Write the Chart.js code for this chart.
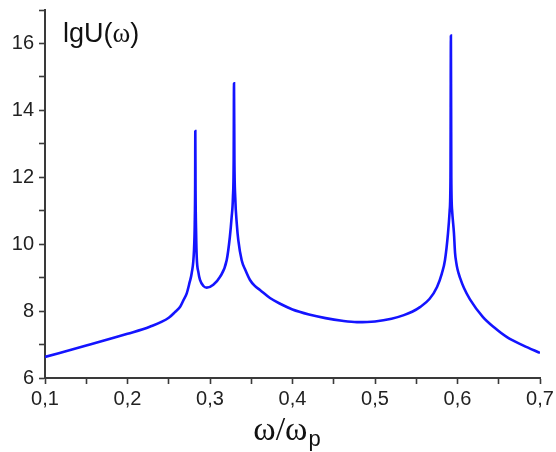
<!DOCTYPE html>
<html>
<head>
<meta charset="utf-8">
<script src="https://cdn.jsdelivr.net/npm/chart.js@4"></script>
<style>
html,body{margin:0;padding:0;background:#fff;}
#wrap{width:556px;height:452px;position:relative;}
</style>
</head>
<body>
<div id="wrap"><canvas id="c" width="556" height="452"></canvas></div>
<script>
// ω/ωp values
const omega = [
  0.100, 0.150, 0.200, 0.227, 0.250, 0.258, 0.2636, 0.2677, 0.2718, 0.2752, 0.2778, 0.2806, 0.2815, 0.2820, 0.2822,
  0.2825, 0.2832, 0.2839, 0.2860, 0.2879, 0.2920, 0.2960, 0.3040, 0.3121, 0.3202, 0.3240,
  0.3262, 0.3278, 0.3287, 0.3291, 0.3296, 0.3306, 0.3325, 0.3343, 0.3384, 0.3430, 0.3485, 0.3540, 0.3606,
  0.3727, 0.385, 0.400, 0.420, 0.440, 0.460, 0.478, 0.500, 0.520, 0.535, 0.545, 0.5545, 0.566, 0.5752, 0.581, 0.5848, 0.5885,
  0.5905, 0.5915, 0.5920, 0.5925, 0.5935, 0.5957, 0.5970, 0.5985, 0.6000, 0.6030, 0.6080, 0.6151, 0.6309, 0.6450, 0.6600, 0.680, 0.700
];
// lgU(ω) values
const lgU = [
  6.63, 6.97, 7.32, 7.53, 7.80, 7.98, 8.12, 8.32, 8.53, 8.85, 9.13, 9.82, 10.6, 11.8, 13.38,
  11.6, 10.3, 9.62, 9.15, 8.93, 8.75, 8.70, 8.79, 9.02, 9.52, 10.2,
  10.8, 11.4, 12.5, 14.81, 12.5, 11.4, 10.6, 10.12, 9.52, 9.22, 8.93, 8.76, 8.63,
  8.39, 8.22, 8.05, 7.90, 7.79, 7.71, 7.67, 7.69, 7.77, 7.88, 7.98, 8.12, 8.36, 8.72, 9.12, 9.52, 10.33,
  11.0, 12.0, 16.24, 12.0, 11.0, 10.33, 9.75, 9.45, 9.25, 9.00, 8.68, 8.35, 7.82, 7.50, 7.22, 6.97, 6.75
];
const xTickLabels = ['0,1','0,2','0,3','0,4','0,5','0,6','0,7'];
const yTickLabels = ['6','8','10','12','14','16'];

const points = omega.map((w, i) => ({x: w, y: lgU[i]}));
const axisColor = '#3a3a3a';
const labelColor = '#222';

const textPlugin = {
  id: 'texts',
  afterDraw(chart) {
    const ctx = chart.ctx;
    const xs = chart.scales.x;
    ctx.save();
    ctx.fillStyle = '#111';
    ctx.textBaseline = 'alphabetic';
    // x-axis title ω/ωp
    const cx = (xs.left + xs.right) / 2 - 6;
    ctx.font = '34px "Liberation Serif", "Times New Roman", serif';
    const main = 'ω/ω';
    const mw = ctx.measureText(main).width;
    ctx.font = '22px "Liberation Sans", Arial, sans-serif';
    const pw = ctx.measureText('p').width;
    const startX = cx - (mw + pw) / 2;
    ctx.font = '34px "Liberation Serif", "Times New Roman", serif';
    ctx.textAlign = 'left';
    ctx.fillText(main, startX, 440);
    ctx.font = '22px "Liberation Sans", Arial, sans-serif';
    ctx.fillText('p', startX + mw + 1, 446);
    // lgU(ω) label
    let x = 63;
    const y = 42;
    ctx.font = '27px "Liberation Sans", Arial, sans-serif';
    ctx.fillText('lgU(', x, y);
    x += ctx.measureText('lgU(').width;
    ctx.font = '27px "Liberation Serif", "Times New Roman", serif';
    ctx.fillText('ω', x, y);
    x += ctx.measureText('ω').width;
    ctx.font = '27px "Liberation Sans", Arial, sans-serif';
    ctx.fillText(')', x, y);
    ctx.restore();
  }
};

new Chart(document.getElementById('c'), {
  type: 'scatter',
  data: {
    datasets: [{
      data: points,
      showLine: true,
      borderColor: 'rgb(20,20,255)',
      borderWidth: 2.6,
      pointRadius: 0,
      cubicInterpolationMode: 'monotone',
      fill: false
    }]
  },
  options: {
    responsive: false,
    animation: false,
    layout: {padding: {top: 10, right: 16, left: 0, bottom: 0}},
    plugins: {legend: {display: false}, tooltip: {enabled: false}},
    scales: {
      x: {
        type: 'linear',
        min: 0.1, max: 0.7,
        afterFit(scale) { scale.height = 74; scale.paddingLeft = 0; scale.paddingRight = 0; },
        border: {display: true, color: axisColor, width: 2},
        grid: {drawOnChartArea: false, drawTicks: true, tickLength: 6, tickColor: axisColor, tickWidth: 1.6},
        ticks: {
          stepSize: 0.05,
          padding: 3,
          color: labelColor,
          font: {family: '"Liberation Sans", Arial, sans-serif', size: 20},
          maxRotation: 0,
          autoSkip: false,
          callback(v) {
            const k = Math.round(v * 100);
            if (k % 10 !== 0) return '';
            return xTickLabels[k / 10 - 1];
          }
        }
      },
      y: {
        type: 'linear',
        min: 6, max: 17,
        afterFit(scale) { scale.width = 45; scale.paddingTop = 0; scale.paddingBottom = 0; },
        border: {display: true, color: axisColor, width: 2},
        grid: {drawOnChartArea: false, drawTicks: true, tickLength: 6, tickColor: axisColor, tickWidth: 1.6},
        ticks: {
          stepSize: 1,
          padding: 5,
          color: labelColor,
          font: {family: '"Liberation Sans", Arial, sans-serif', size: 20},
          autoSkip: false,
          callback(v) {
            const r = Math.round(v);
            if (r % 2 !== 0 || r > 16) return '';
            return yTickLabels[(r - 6) / 2];
          }
        }
      }
    }
  },
  plugins: [textPlugin]
});
</script>
</body>
</html>
